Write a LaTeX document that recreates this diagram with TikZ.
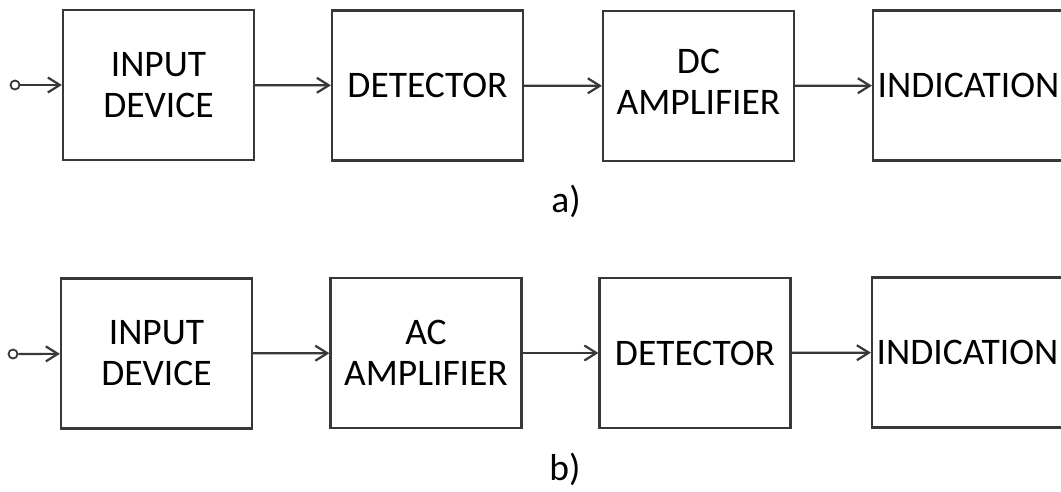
\documentclass[tikz,border=0pt]{standalone}
\usepackage{fontspec}
\setmainfont{Carlito}
\usetikzlibrary{arrows.meta}
\definecolor{linegray}{HTML}{383838}
\tikzset{
  blk/.style={draw=linegray, line width=2.2pt, minimum width=191pt, minimum height=150pt,
    align=center, inner sep=0pt, font=\fontsize{37.5}{41}\selectfont},
  arr/.style={draw=linegray, line width=2.2pt, -{Straight Barb[length=12pt,width=15pt,line width=2.2pt]}},
  term/.style={circle, draw=linegray, line width=1.8pt, minimum size=9pt, inner sep=0pt},
  lbl/.style={font=\fontsize{37.5}{41}\selectfont, inner sep=0pt}
}
\begin{document}
\begin{tikzpicture}[x=1pt,y=-1pt]
\clip (0,0) rectangle (1061,492);
\fill[white] (0,0) rectangle (1061,492);
% row a
\node[term] (ia) at (15,85) {};
\node[blk] (a1) at (158.5,85) {INPUT\\DEVICE};
\node[blk] (a2) at (427.5,85.5) {DETECTOR};
\node[blk] (a3) at (698.5,86) {\raisebox{-6pt}{\begin{tabular}{@{}c@{}}DC\\AMPLIFIER\end{tabular}}};
\node[blk] (a4) at (968.5,85.5) {INDICATION};
\draw[arr] (ia) -- (a1);
\draw[arr] (a1) -- (a2);
\draw[arr] (a2) -- (a3);
\draw[arr] (a3) -- (a4);
\node[lbl, anchor=base] (la) at (566,213) {a)};
% row b
\node[term] (ib) at (13,354) {};
\node[blk] (b1) at (156.5,353.5) {INPUT\\DEVICE};
\node[blk] (b2) at (426,353) {AC\\AMPLIFIER};
\node[blk] (b3) at (695,353) {DETECTOR};
\node[blk] (b4) at (967.5,352.5) {INDICATION};
\draw[arr] (ib) -- (b1);
\draw[arr] (b1) -- (b2);
\draw[arr] (b2) -- (b3);
\draw[arr] (b3) -- (b4);
\node[lbl, anchor=base] (lb) at (565,480) {b)};
\end{tikzpicture}
\end{document}
